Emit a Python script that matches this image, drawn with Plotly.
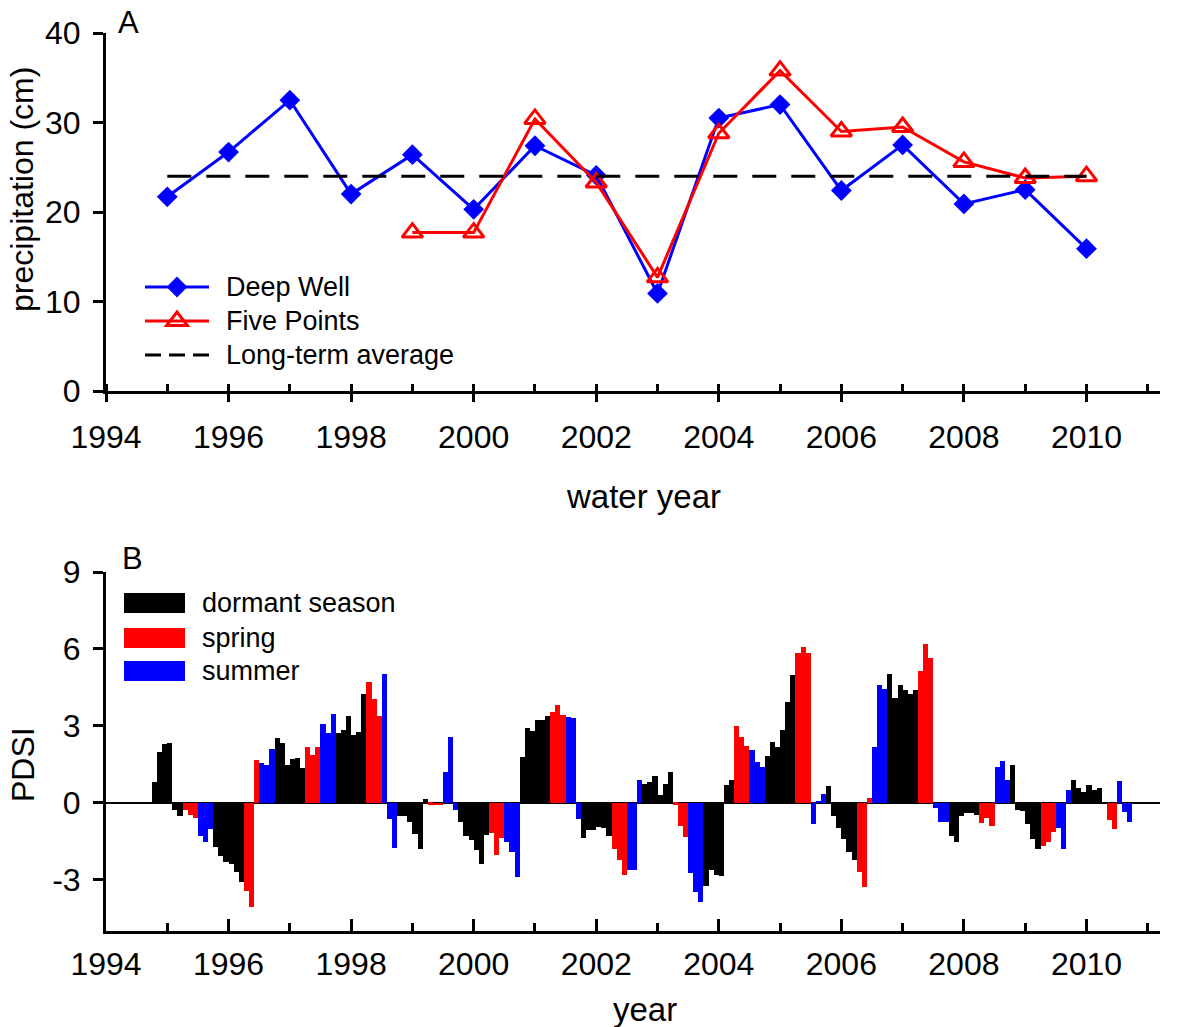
import math
import plotly.graph_objects as go

# ---------------- Panel A: annual precipitation ----------------
water_years = list(range(1995, 2011))
deep_well = [21.7, 26.7, 32.5, 22.0, 26.4, 20.3, 27.4, 24.1,
             10.9, 30.5, 32.0, 22.4, 27.5, 20.9, 22.5, 15.9]

five_points_years = list(range(1999, 2011))
five_points = [17.7, 17.7, 30.4, 23.3, 12.7, 28.8, 35.8, 29.0,
               29.5, 25.6, 23.8, 24.0]

average_years = [1995, 2010]
long_term_average = [24.0, 24.0]

# ---------------- Panel B: monthly PDSI by season ----------------
# dormant season = Oct..Mar, spring = Apr..Jun, summer = Jul..Sep of each water year
pdsi_years = list(range(1995, 2011))
pdsi_dormant = [
    0.80, 1.98, 2.30, 2.33, -0.30, -0.50,      # 1995
    -1.73, -2.06, -2.32, -2.38, -2.71, -3.07,  # 1996
    2.54, 2.33, 1.48, 1.69, 1.76, 1.35,        # 1997
    2.72, 2.85, 3.37, 2.66, 2.76, 4.26,        # 1998
    -0.53, -0.53, -0.76, -1.21, -1.81, 0.16,   # 1999
    -0.76, -1.30, -1.44, -1.86, -2.38, -1.24,  # 2000
    1.78, 2.91, 2.79, 3.24, 3.24, 3.38,        # 2001
    -1.37, -1.08, -1.06, -0.93, -0.98, -1.30,  # 2002
    0.72, 0.80, 1.03, 0.31, 0.74, 1.20,        # 2003
    -3.24, -2.63, -2.82, -2.84, 0.68, 0.87,    # 2004
    1.82, 2.37, 2.17, 2.83, 3.95, 4.98,        # 2005
    0.65, -0.52, -0.97, -1.43, -1.90, -2.23,   # 2006
    5.01, 4.10, 4.61, 4.38, 4.23, 4.39,        # 2007
    -1.28, -1.54, -0.50, -0.41, -0.41, -0.46,  # 2008
    1.48, -0.28, -0.32, -0.83, -1.43, -1.79,   # 2009
    0.89, 0.56, 0.41, 0.70, 0.49, 0.56,        # 2010
]
pdsi_spring = [
    -0.28, -0.47, -0.60,   # 1995
    -3.43, -4.08, 1.65,    # 1996
    2.16, 1.87, 2.16,      # 1997
    4.71, 4.06, 3.38,      # 1998
    -0.07, -0.10, -0.10,   # 1999
    -1.17, -2.02, -1.37,   # 2000
    3.54, 3.83, 3.44,      # 2001
    -1.80, -2.25, -2.80,   # 2002
    -0.07, -0.92, -1.33,   # 2003
    2.98, 2.58, 2.21,      # 2004
    5.85, 6.08, 5.84,      # 2005
    -2.70, -3.29, 0.17,    # 2006
    5.13, 6.18, 5.65,      # 2007
    -0.78, -0.60, -0.90,   # 2008
    -1.68, -1.51, -1.14,   # 2009
    0.0, -0.68, -1.01,     # 2010
]
pdsi_summer = [
    -1.28, -1.52, -1.02,   # 1995
    1.55, 1.48, 2.11,      # 1996
    3.08, 2.72, 3.47,      # 1997
    5.04, -0.65, -1.76,    # 1998
    1.20, 2.56, -0.27,     # 1999
    -1.54, -1.93, -2.90,   # 2000
    3.34, 3.32, -0.65,     # 2001
    -2.62, -2.62, 0.87,    # 2002
    -2.73, -3.47, -3.88,   # 2003
    2.07, 1.60, 1.39,      # 2004
    -0.82, 0.07, 0.36,     # 2005
    2.18, 4.60, 4.43,      # 2006
    -0.21, -0.76, -0.76,   # 2007
    1.39, 1.62, 0.87,      # 2008
    -0.97, -1.79, 0.49,    # 2009
    0.85, -0.36, -0.75,    # 2010
]

season_names = ["dormant season", "spring", "summer"]
season_colors = ["#000000", "#ff0000", "#0000ff"]

pdsi_tickvals = [-3, 0, 3, 6, 9]
pdsi_ticktext = ["-3", "0", "3", "6", "9"]


def month_centres(years, first_month_offset, n_months):
    """Decimal-year centre of each monthly bar.
    first_month_offset is months after Jan 1 of the water year."""
    xs = []
    for wy in years:
        for i in range(n_months):
            xs.append(wy + (first_month_offset + i) / 12 + 1 / 24)
    return xs


dormant_x = month_centres(pdsi_years, -3, 6)   # Oct of previous year .. Mar
spring_x = month_centres(pdsi_years, 3, 3)     # Apr .. Jun
summer_x = month_centres(pdsi_years, 6, 3)     # Jul .. Sep

# ---------------- layout geometry ----------------
W, H = 1177, 1027
ML, MR, MT, MB = 106, 17, 33, 96
PW, PH = W - ML - MR, H - MT - MB
FONT = "Liberation Sans, Arial, Helvetica, sans-serif"


def fx(px):
    return (px - ML) / PW


def fy(py):
    return (H - MB - py) / PH


dom_a = [fy(391), 1.0]
dom_b = [0.0, fy(572)]

fig = go.Figure()

# Panel A traces
DIAMOND_SIZE = 16
TRIANGLE_SIZE = 18
fig.add_trace(go.Scatter(
    x=water_years, y=deep_well, mode="lines+markers", name="Deep Well",
    line=dict(color="#0000ff", width=3),
    marker=dict(symbol="diamond", size=DIAMOND_SIZE, color="#0000ff"),
    xaxis="x", yaxis="y"))
fig.add_trace(go.Scatter(
    x=five_points_years, y=five_points, mode="lines+markers", name="Five Points",
    line=dict(color="#ff0000", width=3),
    marker=dict(symbol="triangle-up-open", size=TRIANGLE_SIZE, color="#ff0000",
                line=dict(width=3, color="#ff0000")),
    xaxis="x", yaxis="y"))
fig.add_trace(go.Scatter(
    x=average_years, y=long_term_average, mode="lines", name="Long-term average",
    line=dict(color="#000000", width=3, dash="24px,15px"),
    xaxis="x", yaxis="y"))

# Panel B bars
for xs, ys, name, color in zip([dormant_x, spring_x, summer_x],
                               [pdsi_dormant, pdsi_spring, pdsi_summer],
                               season_names, season_colors):
    fig.add_trace(go.Bar(
        x=xs, y=ys, width=1 / 12, name=name,
        marker=dict(color=color, line=dict(width=0)),
        xaxis="x2", yaxis="y2"))

# ---------------- axes ----------------
tickfont = dict(family=FONT, size=32, color="black")
common_x = dict(range=[1994, 2011.2], tickmode="linear", tick0=1994, dtick=2,
                showline=True, linewidth=3, linecolor="black",
                tickwidth=3, tickcolor="black", showgrid=False, zeroline=False,
                tickfont=tickfont)
common_y = dict(showline=True, linewidth=3, linecolor="black", ticks="outside",
                ticklen=10, tickwidth=3, tickcolor="black", showgrid=False,
                tickfont=tickfont, ticklabelstandoff=6)

fig.update_layout(
    xaxis=dict(domain=[0, 1], anchor="y", ticks="outside", ticklen=8,
               ticklabelstandoff=8,
               minor=dict(tick0=1994, dtick=1, ticks="inside", ticklen=7,
                          tickwidth=3, tickcolor="black", showgrid=False),
               **common_x),
    yaxis=dict(domain=dom_a, anchor="x", range=[0, 40], tickmode="linear",
               tick0=0, dtick=10, zeroline=False, **common_y),
    xaxis2=dict(domain=[0, 1], anchor="y2", ticks="inside", ticklen=12,
                ticklabelstandoff=3,
                minor=dict(tick0=1994, dtick=1, ticks="inside", ticklen=8,
                           tickwidth=3, tickcolor="black", showgrid=False),
                **common_x),
    yaxis2=dict(domain=dom_b, anchor="x2", range=[-5, 9],
                tickmode="array", tickvals=pdsi_tickvals, ticktext=pdsi_ticktext,
                zeroline=True, zerolinecolor="black", zerolinewidth=1.5,
                **common_y),
    width=W, height=H, margin=dict(l=ML, r=MR, t=MT, b=MB, pad=0),
    plot_bgcolor="white", paper_bgcolor="white",
    barmode="overlay", bargap=0, showlegend=False,
    font=dict(family=FONT, color="black"),
)

annotations = []
shapes = []


def label(text, px, py, size, anchor="left", angle=0):
    annotations.append(dict(
        text=text, x=fx(px), y=fy(py), xref="paper", yref="paper",
        xanchor=anchor, yanchor="middle", showarrow=False, textangle=angle,
        font=dict(family=FONT, size=size, color="black")))


def poly_path(points):
    """SVG path in paper units for a polygon given in pixel offsets."""
    parts = [f"{fx(px):.6f},{fy(py):.6f}" for px, py in points]
    return "M" + " L".join(parts) + " Z"


# panel letters and axis titles
label("A", 128, 23, 31, "center")
label("B", 132, 558, 31, "center")
label("precipitation (cm)", 22, 190, 32, "center", -90)
label("PDSI", 23, 765, 32, "center", -90)
label("water year", 644, 497, 33, "center")
label("year", 645, 1009, 33, "center")

# legend of panel A
leg_a_x0, leg_a_x1, leg_a_text = 145, 209, 224
leg_a_rows = [287, 321, 355]
leg_a_styles = [("#0000ff", "solid"), ("#ff0000", "solid"), ("#000000", "16px,8px")]
for (col, dash), ry, name in zip(leg_a_styles, leg_a_rows,
                                 ["Deep Well", "Five Points", "Long-term average"]):
    shapes.append(dict(type="line", xref="paper", yref="paper",
                       x0=fx(leg_a_x0), x1=fx(leg_a_x1), y0=fy(ry), y1=fy(ry),
                       line=dict(color=col, width=3, dash=dash)))
    label(name, leg_a_text, ry, 27)

# legend glyphs drawn with the same geometry Plotly uses for the markers
cx = (leg_a_x0 + leg_a_x1) / 2
rd = DIAMOND_SIZE / 2 * 1.3
cy = leg_a_rows[0]
shapes.append(dict(type="path", xref="paper", yref="paper",
                   path=poly_path([(cx + rd, cy), (cx, cy + rd),
                                   (cx - rd, cy), (cx, cy - rd)]),
                   fillcolor="#0000ff", line=dict(width=0)))
r = TRIANGLE_SIZE / 2
rt = r * 2 / math.sqrt(3)
cy = leg_a_rows[1]
shapes.append(dict(type="path", xref="paper", yref="paper",
                   path=poly_path([(cx - rt, cy + r / 2), (cx + rt, cy + r / 2),
                                   (cx, cy - r)]),
                   fillcolor="rgba(0,0,0,0)", line=dict(width=3, color="#ff0000")))

# legend of panel B
leg_b_x0, leg_b_x1, leg_b_text = 124, 185, 200
leg_b_rows = [603, 638, 671]
for col, ry, name in zip(season_colors, leg_b_rows, season_names):
    shapes.append(dict(type="rect", xref="paper", yref="paper",
                       x0=fx(leg_b_x0), x1=fx(leg_b_x1),
                       y0=fy(ry - 10), y1=fy(ry + 10),
                       line=dict(width=0), fillcolor=col))
    label(name, leg_b_text, ry, 27)

fig.update_layout(annotations=annotations, shapes=shapes)

fig.write_html("out.html")
